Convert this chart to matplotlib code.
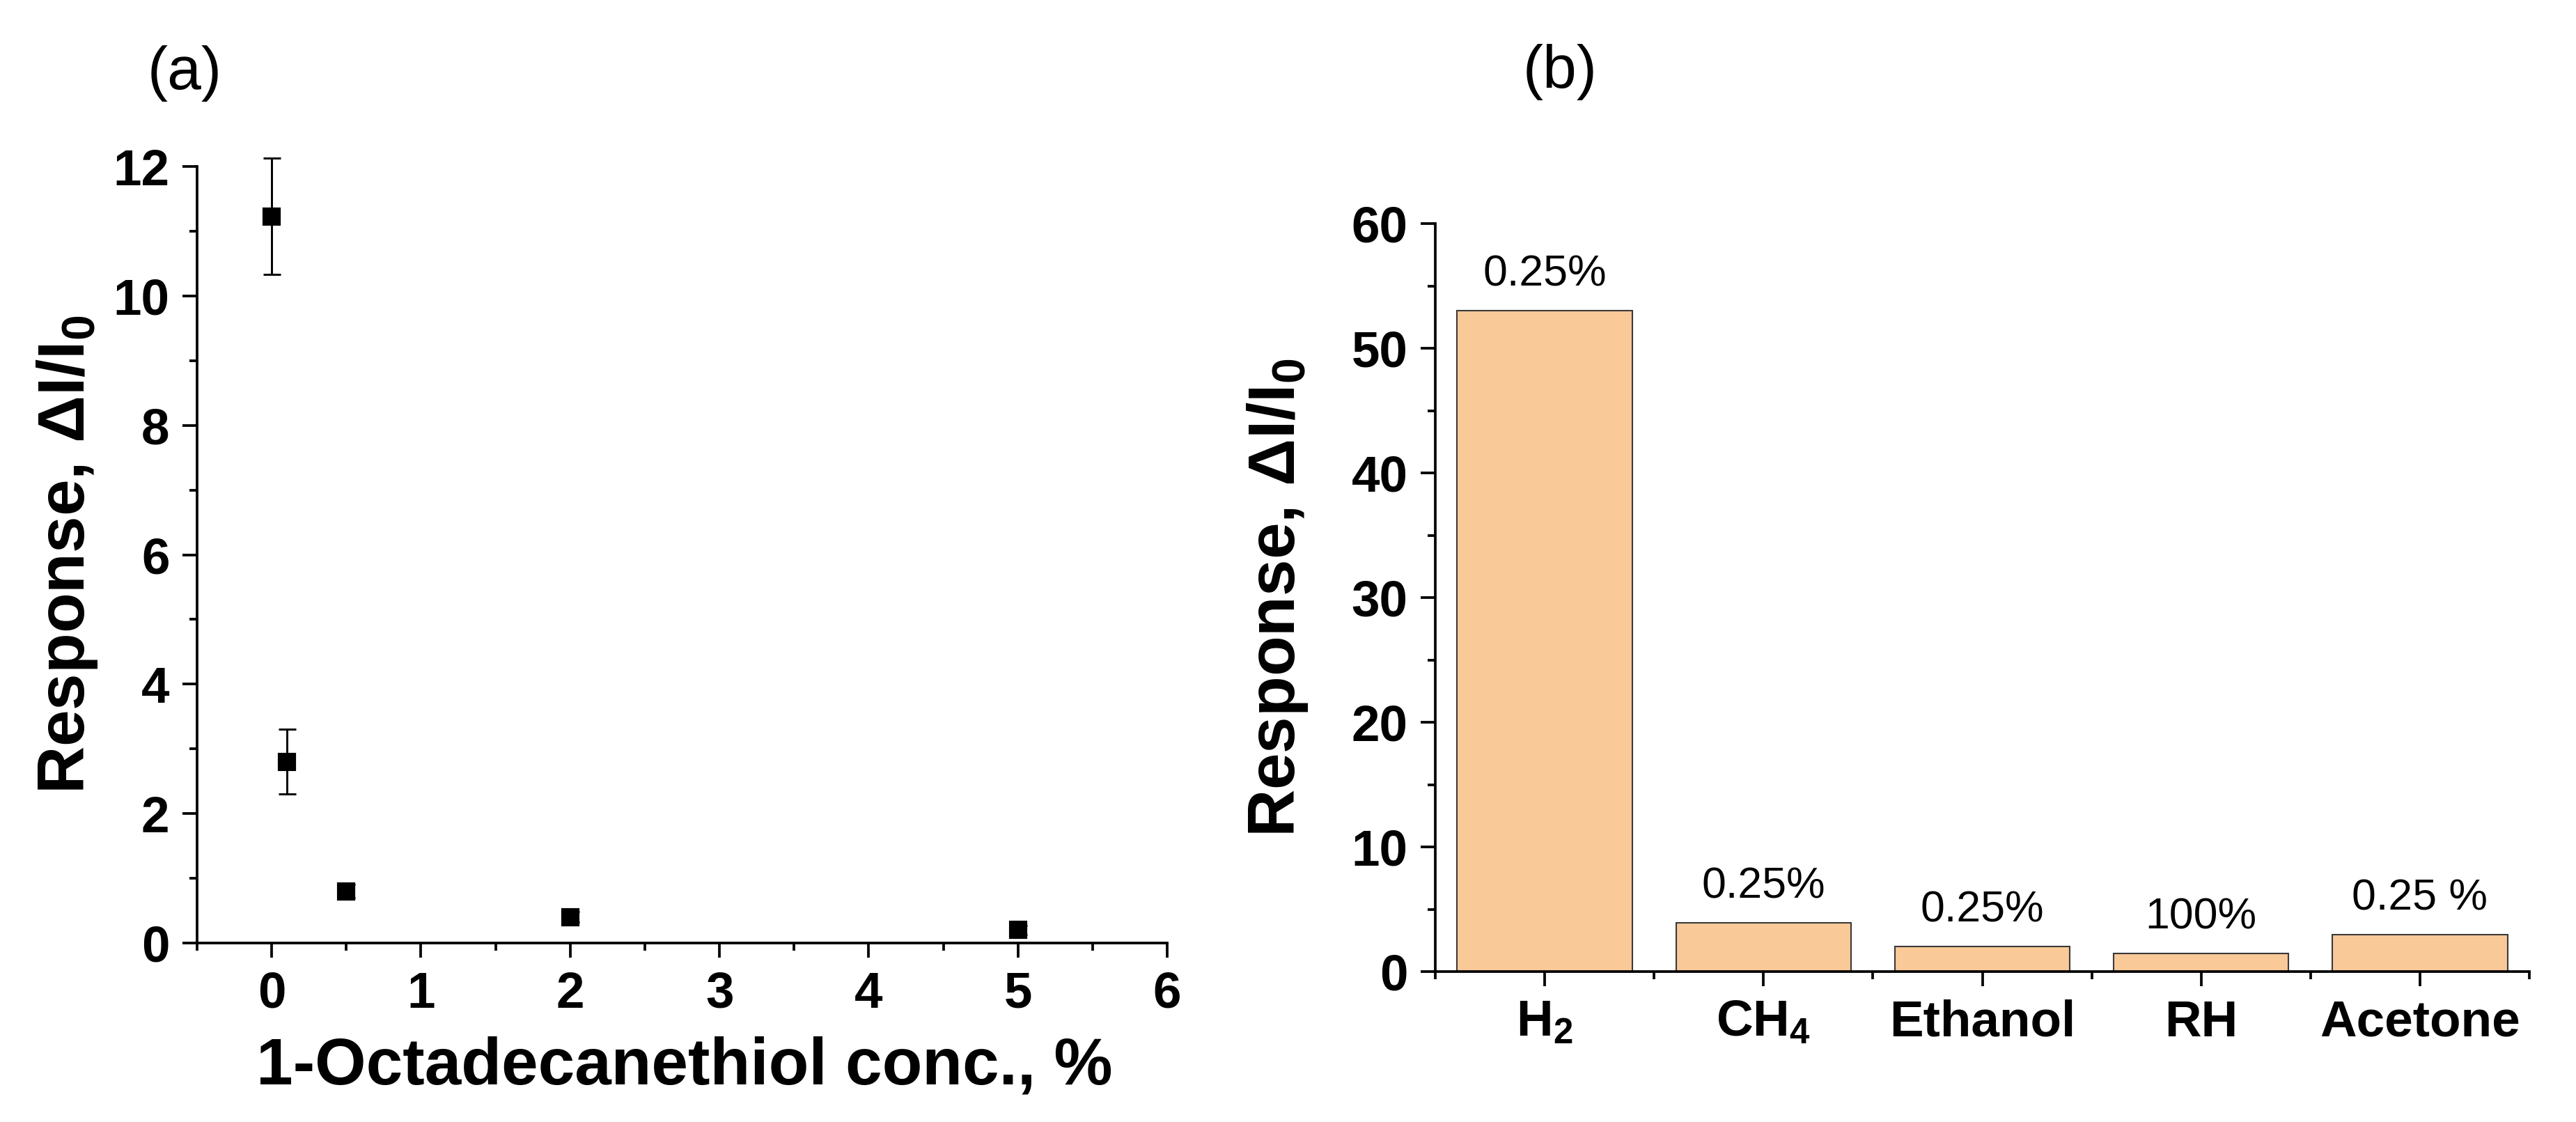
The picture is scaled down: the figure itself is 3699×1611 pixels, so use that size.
import matplotlib
matplotlib.use("Agg")
from matplotlib import pyplot as plt
from matplotlib.ticker import MultipleLocator, FixedLocator

plt.rcParams['font.family'] = ['Liberation Sans', 'DejaVu Sans']
plt.rcParams['mathtext.fontset'] = 'custom'
plt.rcParams['mathtext.rm'] = 'Liberation Sans:bold'
plt.rcParams['mathtext.default'] = 'rm'

# panel (a): response vs thiol concentration
conc = [0, 0.1, 0.5, 2, 5]
response = [11.23, 2.8, 0.8, 0.4, 0.2]
response_err = [0.9, 0.5, 0.1, 0.08, 0.07]

# panel (b): selectivity bars
gases = ['H$_2$', 'CH$_4$', 'Ethanol', 'RH', 'Acetone']
gas_response = [53.0, 3.9, 2.0, 1.45, 2.95]
gas_conc_labels = ['0.25%', '0.25%', '0.25%', '100%', '0.25 %']

W, H, DPI = 3699, 1611, 300
fig = plt.figure(figsize=(W / DPI, H / DPI), dpi=DPI)

tick_fs = 17.5
label_fs = 22.7
axis_lw = 0.9
ylabel_text = 'Response, \u0394I/I$_0$'


def style_axes(ax):
    for side in ['top', 'right']:
        ax.spines[side].set_visible(False)
    for side in ['left', 'bottom']:
        ax.spines[side].set_linewidth(axis_lw)
    ax.tick_params(which='major', direction='out', length=5, width=axis_lw,
                   labelsize=tick_fs, pad=4.5)
    ax.tick_params(which='minor', direction='out', length=2.6, width=axis_lw)
    for lab in ax.get_xticklabels() + ax.get_yticklabels():
        lab.set_fontweight('bold')


# ---- (a) ----
ax1 = fig.add_axes([283 / W, 1 - 1354 / H, (1676 - 283) / W, (1354 - 239) / H])
eb = ax1.errorbar(conc, response, yerr=response_err, fmt='s', color='black',
                  markersize=5.5, elinewidth=0.7, capsize=3, capthick=0.7)
for art in eb.lines[1] + eb.lines[2]:
    art.set_clip_on(False)
ax1.set_xlim(-0.5, 6)
ax1.set_ylim(0, 12)
ax1.xaxis.set_major_locator(MultipleLocator(1))
ax1.xaxis.set_minor_locator(MultipleLocator(0.5))
ax1.yaxis.set_major_locator(MultipleLocator(2))
ax1.yaxis.set_minor_locator(MultipleLocator(1))
style_axes(ax1)
ax1.set_xlabel('1-Octadecanethiol conc., %', fontsize=label_fs, fontweight='bold', va='center')
ax1.xaxis.set_label_coords(0.502, -0.16)
ax1.set_ylabel(ylabel_text, fontsize=label_fs, fontweight='bold', va='center')
ax1.yaxis.set_label_coords(-0.134, 0.5)

# ---- (b) ----
ax2 = fig.add_axes([2061 / W, 1 - 1395 / H, (3632 - 2061) / W, (1395 - 321) / H])
pos = list(range(len(gases)))
ax2.bar(pos, gas_response, width=0.8, color='#F9C998', edgecolor='#3a3a3a', linewidth=0.5)
for i, (v, t) in enumerate(zip(gas_response, gas_conc_labels)):
    ax2.annotate(t, (i, v), xytext=(0, 12.5), textcoords='offset points',
                 ha='center', va='center', fontsize=15)
ax2.set_xlim(-0.5, len(gases) - 0.5)
ax2.set_ylim(0, 60)
ax2.set_xticks(pos)
ax2.set_xticklabels(gases)
ax2.xaxis.set_minor_locator(FixedLocator([p - 0.5 for p in pos] + [len(gases) - 0.5]))
ax2.yaxis.set_major_locator(MultipleLocator(10))
ax2.yaxis.set_minor_locator(MultipleLocator(5))
style_axes(ax2)
ax2.set_ylabel(ylabel_text, fontsize=label_fs, fontweight='bold', va='center')
ax2.yaxis.set_label_coords(-0.144, 0.5)

fig.text(265 / W, 1 - 106 / H, '(a)', fontsize=21, ha='center', va='center')
fig.text(2240 / W, 1 - 103 / H, '(b)', fontsize=21, ha='center', va='center')

fig.savefig('out.png', dpi=DPI, facecolor='white')
